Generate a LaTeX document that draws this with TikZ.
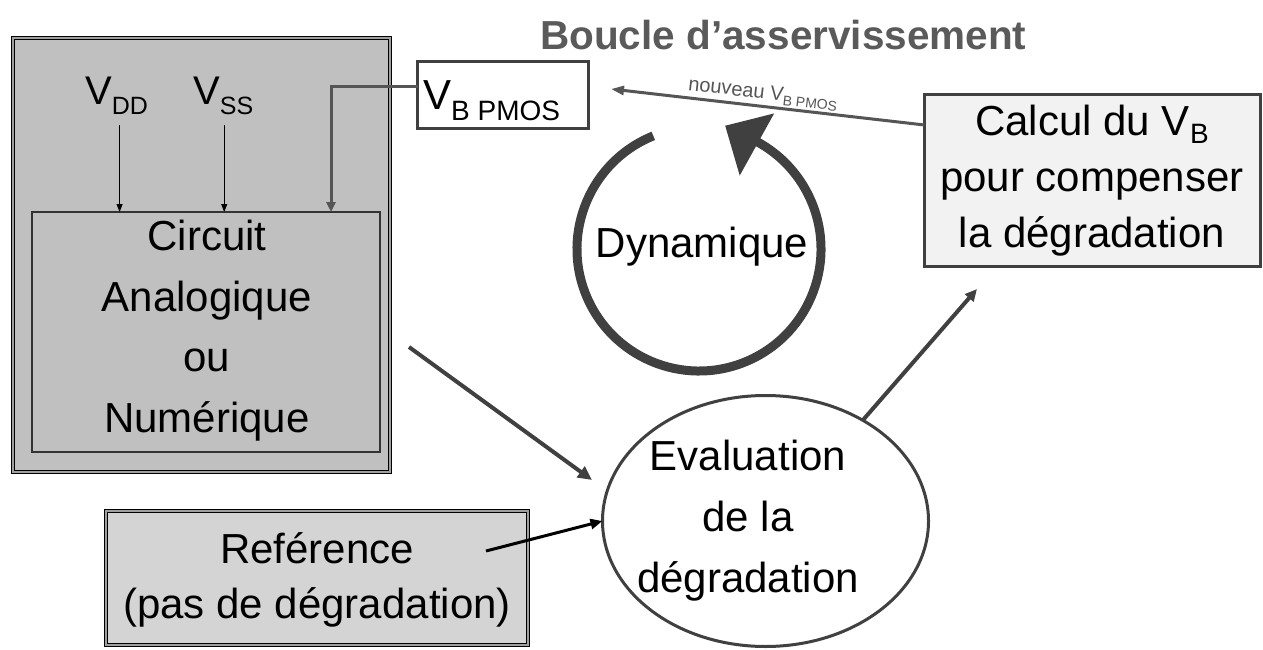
\documentclass[tikz,border=0pt]{standalone}
\usepackage{fontspec}
\setmainfont{Liberation Sans}
\usetikzlibrary{arrows.meta,shapes.geometric,calc}
\definecolor{boxgray}{HTML}{C0C0C0}
\definecolor{refgray}{HTML}{D4D4D4}
\definecolor{calcfill}{HTML}{F2F2F2}
\definecolor{darkline}{HTML}{404040}
\definecolor{midgray}{HTML}{555555}
\definecolor{titlegray}{HTML}{5A5A5A}
\definecolor{gapgray}{HTML}{A0A0A0}
\newcommand{\subtxt}[3]{{\fontsize{#1}{#1}\selectfont\raisebox{-#2pt}{#3}}}
\begin{document}
\begin{tikzpicture}[x=1pt,y=-1pt,
  dblbox/.style={draw=black, line width=1.4pt, double=gapgray, double distance=1.2pt, inner sep=0pt, outer sep=0pt},
  plainbox/.style={inner sep=0pt, outer sep=0pt},
  bigtxt/.style={inner sep=0pt, align=center, font=\fontsize{42}{60.7}\selectfont},
  thinarrow/.style={draw=black, line width=1pt, -{Triangle[length=8pt,width=6pt]}},
  fbarrow/.style={draw=midgray, line width=3pt, -{Triangle[length=10pt,width=9pt]}},
  circarrow/.style={draw=darkline, line width=4pt, -{Triangle[length=14pt,width=13pt]}},
  refarrow/.style={draw=black, line width=3pt, -{Triangle[length=12pt,width=10pt]}},
  calcarrow/.style={draw=darkline, line width=4pt, -{Triangle[length=12pt,width=11pt]}},
  nvarrow/.style={draw=midgray, line width=3pt, {Triangle[length=13pt,width=9pt]}-},
]
\useasboundingbox (0,0) rectangle (1263,650);

% title
\node[anchor=base west, inner sep=0pt, text=titlegray, font=\fontsize{40.5}{48}\selectfont\bfseries] (title) at (540,50) {Boucle d’asservissement};

% left outer box
\node[dblbox, fill=boxgray, minimum width=377pt, minimum height=434pt] (outer) at (201.5,255) {};
% inner circuit box
\node[plainbox, draw=black!80, line width=1.5pt, fill=boxgray, minimum width=348pt, minimum height=240pt] (circuit) at (206,332) {};
\node[bigtxt] (circtxt) at (207,330.5) {Circuit\\Analogique\\ou\\Numérique};

% VDD / VSS
\node[anchor=base west, inner sep=0pt, font=\fontsize{40}{48}\selectfont] (vdd) at (85,105) {V\subtxt{25}{10}{DD}};
\node[anchor=base west, inner sep=0pt, font=\fontsize{40}{48}\selectfont] (vss) at (193,105) {V\subtxt{25}{10}{SS}};
\draw[thinarrow] ([xshift=3pt,yshift=-10pt]vdd.south) -- ([xshift=3pt]vdd.south |- circuit.north);
\draw[thinarrow] ([xshift=1pt,yshift=-10pt]vss.south) -- ([xshift=1pt]vss.south |- circuit.north);

% VB PMOS box
\node[plainbox, draw=darkline, line width=3pt, fill=white, minimum width=171pt, minimum height=67pt] (vb) at (503,95.5) {};
\node[anchor=base west, inner sep=0pt, font=\fontsize{42}{50}\selectfont] (vbtxt) at (423,110) {V\subtxt{28}{11}{B PMOS}};
\draw[fbarrow] ([yshift=8.5pt]vb.west) -| ([xshift=125pt]circuit.north);

% Calcul box
\node[plainbox, draw=darkline, line width=3pt, fill=calcfill, minimum width=336pt, minimum height=172pt] (calc) at (1092.5,180.5) {};
\node[bigtxt, font=\fontsize{42}{56}\selectfont] (calctxt) at (1092,180.5) {Calcul du V\subtxt{28}{8}{B}\\pour compenser\\la dégradation};

% nouveau VB arrow
\coordinate (nvtip) at (611,89);
\draw[nvarrow] (nvtip) -- node[pos=0.48, sloped, above=2pt, inner sep=0pt, text=midgray, font=\fontsize{20}{24}\selectfont] (nvlabel) {nouveau V\subtxt{14}{4}{B PMOS}} ([yshift=55.5pt]calc.west);

% Dynamique loop
\coordinate (lc) at (699,249);
\draw[draw=darkline, line width=9pt] ($(lc)+(-112:122)$) arc[start angle=-112, end angle=-422, radius=122];
\fill[darkline] ($(lc)+(-78:126)$) -- ($(lc)+(-61:155)$) -- ($(lc)+(-61:84)$) -- cycle;
\node[bigtxt] (dyn) at (702,246.5) {Dynamique};

% Evaluation ellipse
\node[ellipse, draw=darkline, line width=3pt, fill=white, minimum width=326pt, minimum height=251pt, inner sep=0pt, outer sep=0pt] (eval) at (765.5,521) {};
\node[bigtxt] (evaltxt) at (748,520.5) {Evaluation\\de la\\dégradation};

% Reference box
\node[dblbox, fill=refgray, minimum width=422pt, minimum height=134pt] (ref) at (317,578) {};
\node[bigtxt, font=\fontsize{42}{55}\selectfont] (reftxt) at (317,580) {Reférence\\(pas de dégradation)};

% connectors to / from the ellipse
\coordinate (circstart) at (409,347);
\coordinate (circtip) at (592,480);
\draw[circarrow] (circstart) -- (circtip);
\coordinate (refstart) at (486,551);
\draw[refarrow] (refstart) -- (eval.west);
\coordinate (calctip) at (977,289);
\draw[calcarrow] (eval.46) -- (calctip);
\end{tikzpicture}
\end{document}
